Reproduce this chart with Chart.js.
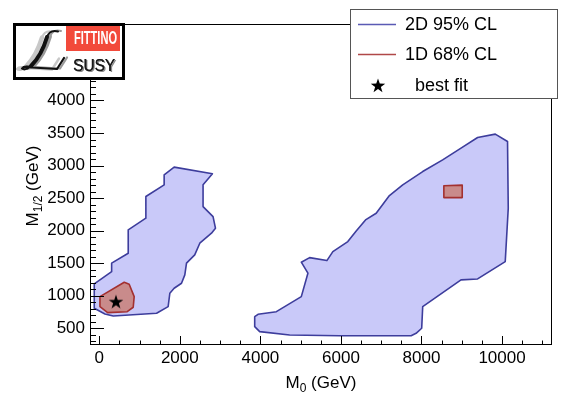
<!DOCTYPE html>
<html>
<head>
<meta charset="utf-8">
<script src="https://cdn.jsdelivr.net/npm/chart.js@4.4.0/dist/chart.umd.min.js"></script>
<style>
  html, body { margin: 0; padding: 0; background: #fff; }
  canvas { display: block; }
</style>
</head>
<body>
<canvas id="c" width="561" height="393"></canvas>
<script>
// ---- contour data (M0, M1/2 in GeV) ----
// 2D 95% CL region, low-M0 island
const blueLeftM0  = [-124, -124, 141, 347, 1423, 1710, 1752, 1859, 2042, 2124, 2166, 2370, 2496, 2786, 2885, 2825, 2577, 2577, 2810, 1859, 1611, 1611, 1157, 1157, 719, 719, 307, 307];
const blueLeftM12 = [1181, 808, 720, 689, 731, 832, 1038, 1115, 1192, 1320, 1500, 1627, 1807, 1961, 2038, 2216, 2370, 2704, 2873, 2976, 2857, 2704, 2524, 2192, 2012, 1653, 1500, 1370];
// 2D 95% CL region, high-M0 island
const blueRightM0  = [3859, 3859, 3983, 4726, 5965, 7742, 7866, 8005, 8030, 8981, 9393, 10079, 10154, 10136, 9832, 9393, 8981, 8525, 8030, 7534, 7204, 6875, 6610, 6379, 6171, 5799, 5651, 5222, 5016, 5180, 5016, 4397, 3941];
const blueRightM12 = [678, 525, 448, 397, 386, 386, 423, 500, 832, 1243, 1258, 1524, 2345, 3369, 3483, 3431, 3268, 3088, 2908, 2704, 2539, 2268, 2165, 1996, 1832, 1678, 1540, 1586, 1515, 1346, 986, 755, 715];
// 1D 68% CL regions
const redLeftM0  = [17, 620, 743, 867, 843, 694, 208, 17];
const redLeftM12 = [986, 1207, 1177, 986, 823, 755, 740, 832];
const redRightM0  = [8555, 9011, 9011, 8555];
const redRightM12 = [2508, 2508, 2700, 2690];
// best fit point
const bestFitM0  = [414];
const bestFitM12 = [909];

// axis ticks
const xTicks = [0, 2000, 4000, 6000, 8000, 10000];
const yTicks = [500, 1000, 1500, 2000, 2500, 3000, 3500, 4000];
const X_MIN = -230, X_MAX = 11240;
const Y_MIN = 243,  Y_MAX = 5175;

const legendLabels = ['2D 95% CL', '1D 68% CL', 'best fit'];

const FONT = "'Liberation Sans', Arial, Helvetica, sans-serif";
const BLUE_FILL = '#c9c9f9', BLUE_LINE = '#3d3d9c';
const RED_FILL = '#c98b8b', RED_LINE = '#a33030';

function closed(xs, ys) {
  const pts = xs.map((x, i) => ({ x: x, y: ys[i] }));
  pts.push({ x: xs[0], y: ys[0] });
  return pts;
}

function starPath(ctx, cx, cy, R, r) {
  ctx.beginPath();
  for (let i = 0; i < 10; i++) {
    const rad = i % 2 === 0 ? R : r;
    const a = -Math.PI / 2 + i * Math.PI / 5;
    const px = cx + rad * Math.cos(a), py = cy + rad * Math.sin(a);
    if (i === 0) ctx.moveTo(px, py); else ctx.lineTo(px, py);
  }
  ctx.closePath();
}

// filled star marker
const starImg = document.createElement('canvas');
starImg.width = 16; starImg.height = 16;
(function () {
  const s = starImg.getContext('2d');
  s.fillStyle = '#000';
  starPath(s, 8, 8.6, 7.6, 3.0);
  s.fill();
})();

function contour(xs, ys, fillC, lineC, order) {
  return {
    data: closed(xs, ys),
    showLine: true,
    fill: 'shape',
    backgroundColor: fillC,
    borderColor: lineC,
    borderWidth: 1.6,
    borderJoinStyle: 'round',
    tension: 0,
    pointRadius: 0,
    order: order
  };
}

// calligraphic L of the logo
function drawScriptL(ctx, dx, dy, color, scaleW) {
  ctx.save();
  ctx.translate(dx, dy);
  ctx.strokeStyle = color;
  ctx.lineCap = 'round';
  ctx.lineJoin = 'round';
  // top hook
  ctx.lineWidth = 2 * scaleW;
  ctx.beginPath();
  ctx.moveTo(58, 31.5);
  ctx.quadraticCurveTo(50, 29, 47, 37);
  ctx.stroke();
  // stem
  ctx.lineWidth = 4 * scaleW;
  ctx.beginPath();
  ctx.moveTo(47, 37);
  ctx.bezierCurveTo(44, 47, 39, 58, 31, 66);
  ctx.stroke();
  // bottom curl and base with rising tail
  ctx.lineWidth = 2.2 * scaleW;
  ctx.beginPath();
  ctx.moveTo(31, 66);
  ctx.quadraticCurveTo(25, 71, 22, 68.5);
  ctx.quadraticCurveTo(24, 65.5, 32, 67.5);
  ctx.lineTo(57, 69);
  ctx.lineTo(64, 58);
  ctx.stroke();
  ctx.restore();
}

const overlay = {
  id: 'overlay',
  afterDatasetsDraw(chart) {
    const ctx = chart.ctx, a = chart.chartArea;
    const xs = chart.scales.x, ys = chart.scales.y;
    ctx.save();
    ctx.strokeStyle = '#000';
    ctx.lineWidth = 1;
    // frame
    ctx.strokeRect(Math.round(a.left) + 0.5, Math.round(a.top) + 0.5,
                   Math.round(a.right - a.left) - 1, Math.round(a.bottom - a.top) - 1);
    // x ticks, drawn inward
    ctx.beginPath();
    for (let v = 0; v <= X_MAX; v += 500) {
      const px = Math.round(xs.getPixelForValue(v)) + 0.5;
      const len = v % 2000 === 0 ? 9 : 4.5;
      ctx.moveTo(px, a.bottom);
      ctx.lineTo(px, a.bottom - len);
    }
    // y ticks, drawn inward
    for (let v = 300; v <= Y_MAX; v += 100) {
      const py = Math.round(ys.getPixelForValue(v)) + 0.5;
      const len = v % 500 === 0 ? 14 : 6;
      ctx.moveTo(a.left, py);
      ctx.lineTo(a.left + len, py);
    }
    ctx.stroke();
    ctx.restore();
  },
  afterDraw(chart) {
    const ctx = chart.ctx;
    ctx.save();
    ctx.fillStyle = '#000';
    // x axis title: M_0 (GeV)
    {
      const big = '17px ' + FONT, small = '12px ' + FONT;
      ctx.font = big; const wM = ctx.measureText('M').width;
      const wR = ctx.measureText(' (GeV)').width;
      ctx.font = small; const wS = ctx.measureText('0').width;
      const total = wM + wS + wR;
      let x = 321 - total / 2; const y = 388;
      ctx.textBaseline = 'alphabetic'; ctx.textAlign = 'left';
      ctx.font = big; ctx.fillText('M', x, y); x += wM;
      ctx.font = small; ctx.fillText('0', x, y + 4); x += wS;
      ctx.font = big; ctx.fillText(' (GeV)', x, y);
    }
    // y axis title: M_1/2 (GeV)
    {
      ctx.save();
      ctx.translate(38, 186);
      ctx.rotate(-Math.PI / 2);
      const big = '17px ' + FONT, small = '12px ' + FONT;
      ctx.font = big; const wM = ctx.measureText('M').width;
      const wR = ctx.measureText(' (GeV)').width;
      ctx.font = small; const wS = ctx.measureText('1/2').width;
      const total = wM + wS + wR;
      let x = -total / 2;
      ctx.textBaseline = 'alphabetic'; ctx.textAlign = 'left';
      ctx.font = big; ctx.fillText('M', x, 0); x += wM;
      ctx.font = small; ctx.fillText('1/2', x, 4); x += wS;
      ctx.font = big; ctx.fillText(' (GeV)', x, 0);
      ctx.restore();
    }
    // logo
    {
      ctx.fillStyle = '#fff';
      ctx.fillRect(14, 24, 110, 55);
      ctx.fillStyle = '#f24a3b';
      ctx.fillRect(66, 26, 54, 25);
      // FITTINO
      ctx.save();
      ctx.font = 'bold 18px "Liberation Sans Narrow", ' + FONT;
      ctx.textBaseline = 'alphabetic'; ctx.textAlign = 'left';
      const wF = ctx.measureText('FITTINO').width;
      ctx.translate(74, 44);
      ctx.scale(43 / wF, 1);
      ctx.fillStyle = '#fff';
      ctx.fillText('FITTINO', 0, 0);
      ctx.restore();
      // script L, with motion streaks behind it
      drawScriptL(ctx, -5, 0.5, '#c8c8c8', 1.1);
      drawScriptL(ctx, 3, -0.5, '#9a9a9a', 1.0);
      drawScriptL(ctx, 0, 0, '#111', 1.0);
      // SUSY
      ctx.save();
      ctx.font = '17px ' + FONT;
      ctx.textBaseline = 'alphabetic'; ctx.textAlign = 'left';
      const wS = ctx.measureText('SUSY').width;
      ctx.translate(73, 71);
      ctx.scale(42 / wS, 1);
      ctx.fillStyle = '#8a8a8a';
      ctx.fillText('SUSY', 1.6, 0.6);
      ctx.fillStyle = '#1a1a1a';
      ctx.fillText('SUSY', 0, 0);
      ctx.fillText('SUSY', 0.4, 0);
      ctx.restore();
      ctx.lineWidth = 3;
      ctx.strokeStyle = '#000';
      ctx.strokeRect(14.5, 24.5, 109, 54);
    }
    // legend box
    {
      ctx.fillStyle = '#fff';
      ctx.fillRect(350, 9, 207, 90);
      ctx.lineWidth = 1;
      ctx.strokeStyle = '#555';
      ctx.strokeRect(350.5, 9.5, 207, 89);
      ctx.font = '18px ' + FONT;
      ctx.textBaseline = 'middle'; ctx.textAlign = 'left';
      ctx.lineWidth = 1.5;
      ctx.strokeStyle = '#5a5ab4';
      ctx.beginPath(); ctx.moveTo(358, 24.5); ctx.lineTo(396, 24.5); ctx.stroke();
      ctx.strokeStyle = '#b04848';
      ctx.beginPath(); ctx.moveTo(358, 54.5); ctx.lineTo(396, 54.5); ctx.stroke();
      ctx.fillStyle = '#000';
      ctx.fillText(legendLabels[0], 405, 25);
      ctx.fillText(legendLabels[1], 405, 55);
      starPath(ctx, 378, 86, 7.6, 3.0); ctx.fill();
      ctx.fillText(legendLabels[2], 415, 86);
    }
    ctx.restore();
  }
};

new Chart(document.getElementById('c').getContext('2d'), {
  type: 'scatter',
  data: {
    datasets: [
      contour(blueLeftM0, blueLeftM12, BLUE_FILL, BLUE_LINE, 3),
      contour(blueRightM0, blueRightM12, BLUE_FILL, BLUE_LINE, 3),
      contour(redLeftM0, redLeftM12, RED_FILL, RED_LINE, 2),
      contour(redRightM0, redRightM12, RED_FILL, RED_LINE, 2),
      {
        data: bestFitM0.map((x, i) => ({ x: x, y: bestFitM12[i] })),
        pointStyle: starImg,
        pointRadius: 8,
        showLine: false,
        order: 1
      }
    ]
  },
  options: {
    responsive: false,
    animation: false,
    devicePixelRatio: 1,
    layout: { padding: { top: 24, right: 8, left: 0, bottom: 0 } },
    plugins: { legend: { display: false }, tooltip: { enabled: false } },
    scales: {
      x: {
        type: 'linear', min: X_MIN, max: X_MAX,
        grid: { display: false, drawTicks: false },
        border: { display: false },
        afterBuildTicks: s => { s.ticks = xTicks.map(v => ({ value: v })); },
        afterFit: s => { s.height = 48; },
        ticks: {
          font: { family: FONT, size: 17 }, color: '#000', padding: 3,
          maxRotation: 0, autoSkip: false, callback: v => String(v)
        }
      },
      y: {
        type: 'linear', min: Y_MIN, max: Y_MAX,
        grid: { display: false, drawTicks: false },
        border: { display: false },
        afterBuildTicks: s => { s.ticks = yTicks.map(v => ({ value: v })); },
        afterFit: s => { s.width = 90; },
        ticks: {
          font: { family: FONT, size: 17 }, color: '#000', padding: 5,
          autoSkip: false, callback: v => String(v)
        }
      }
    }
  },
  plugins: [overlay]
});
</script>
</body>
</html>
